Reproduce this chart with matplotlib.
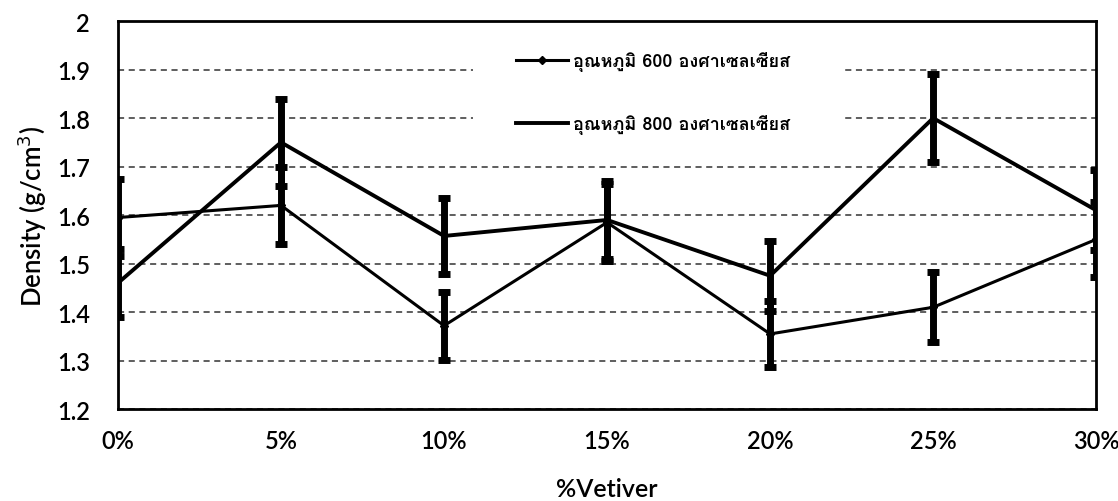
import numpy as np
import matplotlib
matplotlib.use("Agg")
from matplotlib import pyplot as plt
from matplotlib import font_manager
from matplotlib.ft2font import FT2Font
from matplotlib.patches import Rectangle

# Density of samples vs % vetiver, two firing temperatures
categories = ['0%', '5%', '10%', '15%', '20%', '25%', '30%']
dens_600 = [1.595, 1.62, 1.372, 1.585, 1.355, 1.41, 1.55]
err_600 = [0.08, 0.08, 0.07, 0.08, 0.068, 0.072, 0.077]
dens_800 = [1.46, 1.75, 1.557, 1.59, 1.475, 1.80, 1.61]
err_800 = [0.07, 0.09, 0.078, 0.08, 0.072, 0.09, 0.082]
labels = ['อุณหภูมิ 600 องศาเซลเซียส', 'อุณหภูมิ 800 องศาเซลเซียส']
yticks = [1.2, 1.3, 1.4, 1.5, 1.6, 1.7, 1.8, 1.9, 2.0]

# find some installed font that has thai glyphs
thai_font = None
for f in font_manager.fontManager.ttflist:
    try:
        if FT2Font(f.fname).get_char_index(0x0E2D):
            thai_font = f.name
            break
    except Exception:
        pass
print('thai font:', thai_font)

base = 'Lato'
plt.rcParams['font.family'] = [base, 'DejaVu Sans']
thai_family = [thai_font, base] if thai_font else [base, 'DejaVu Sans']

fig = plt.figure(figsize=(11.18, 5.02), dpi=100)
ax = fig.add_axes([0.1055, 0.183, 0.875, 0.773])

x = np.arange(len(categories))
ax.errorbar(x, dens_600, yerr=err_600, color='black', lw=2.2, marker='D',
            ms=4, elinewidth=5, capsize=4.5, capthick=5, label=labels[0],
            zorder=3)
ax.errorbar(x, dens_800, yerr=err_800, color='black', lw=2.8,
            elinewidth=5, capsize=4.5, capthick=5, label=labels[1], zorder=3)

ax.set_xlim(x[0], x[-1])
ax.set_ylim(1.2, 2.0)
ax.set_xticks(x)
ax.set_xticklabels(categories)
ax.set_yticks(yticks)
ax.set_yticklabels(['1.2', '1.3', '1.4', '1.5', '1.6', '1.7', '1.8', '1.9', '2'])
ax.tick_params(length=0, labelsize=17, pad=14)
ax.tick_params(axis='y', pad=20)
for lab in ax.get_xticklabels() + ax.get_yticklabels():
    lab.set_fontweight('semibold')
for s in ax.spines.values():
    s.set_linewidth(2)
ax.yaxis.grid(True, ls=(0, (4, 3)), color='#333333', lw=1.1)
ax.set_axisbelow(True)

ax.set_xlabel('%Vetiver', fontsize=18, labelpad=18, fontweight='semibold')
ax.set_ylabel('Density (g/cm$^3$)', fontsize=18.5, labelpad=6,
              fontweight='semibold')

# white area behind the legend (hides the grid there)
ax.add_patch(Rectangle((0.363, 0.696), 0.378, 0.244, transform=ax.transAxes,
                       facecolor='white', edgecolor='none', zorder=1))

# drop the error bars from the legend handles
h, l = ax.get_legend_handles_labels()
h = [hh[0] for hh in h]
leg = ax.legend(h, l, loc='upper left', bbox_to_anchor=(0.39, 0.965),
                frameon=False, labelspacing=2.4,
                handlelength=2.9, handletextpad=0.25,
                prop={'family': thai_family, 'size': 13, 'weight': 'bold'})
leg.set_zorder(5)

plt.savefig('out.png', dpi=100)
